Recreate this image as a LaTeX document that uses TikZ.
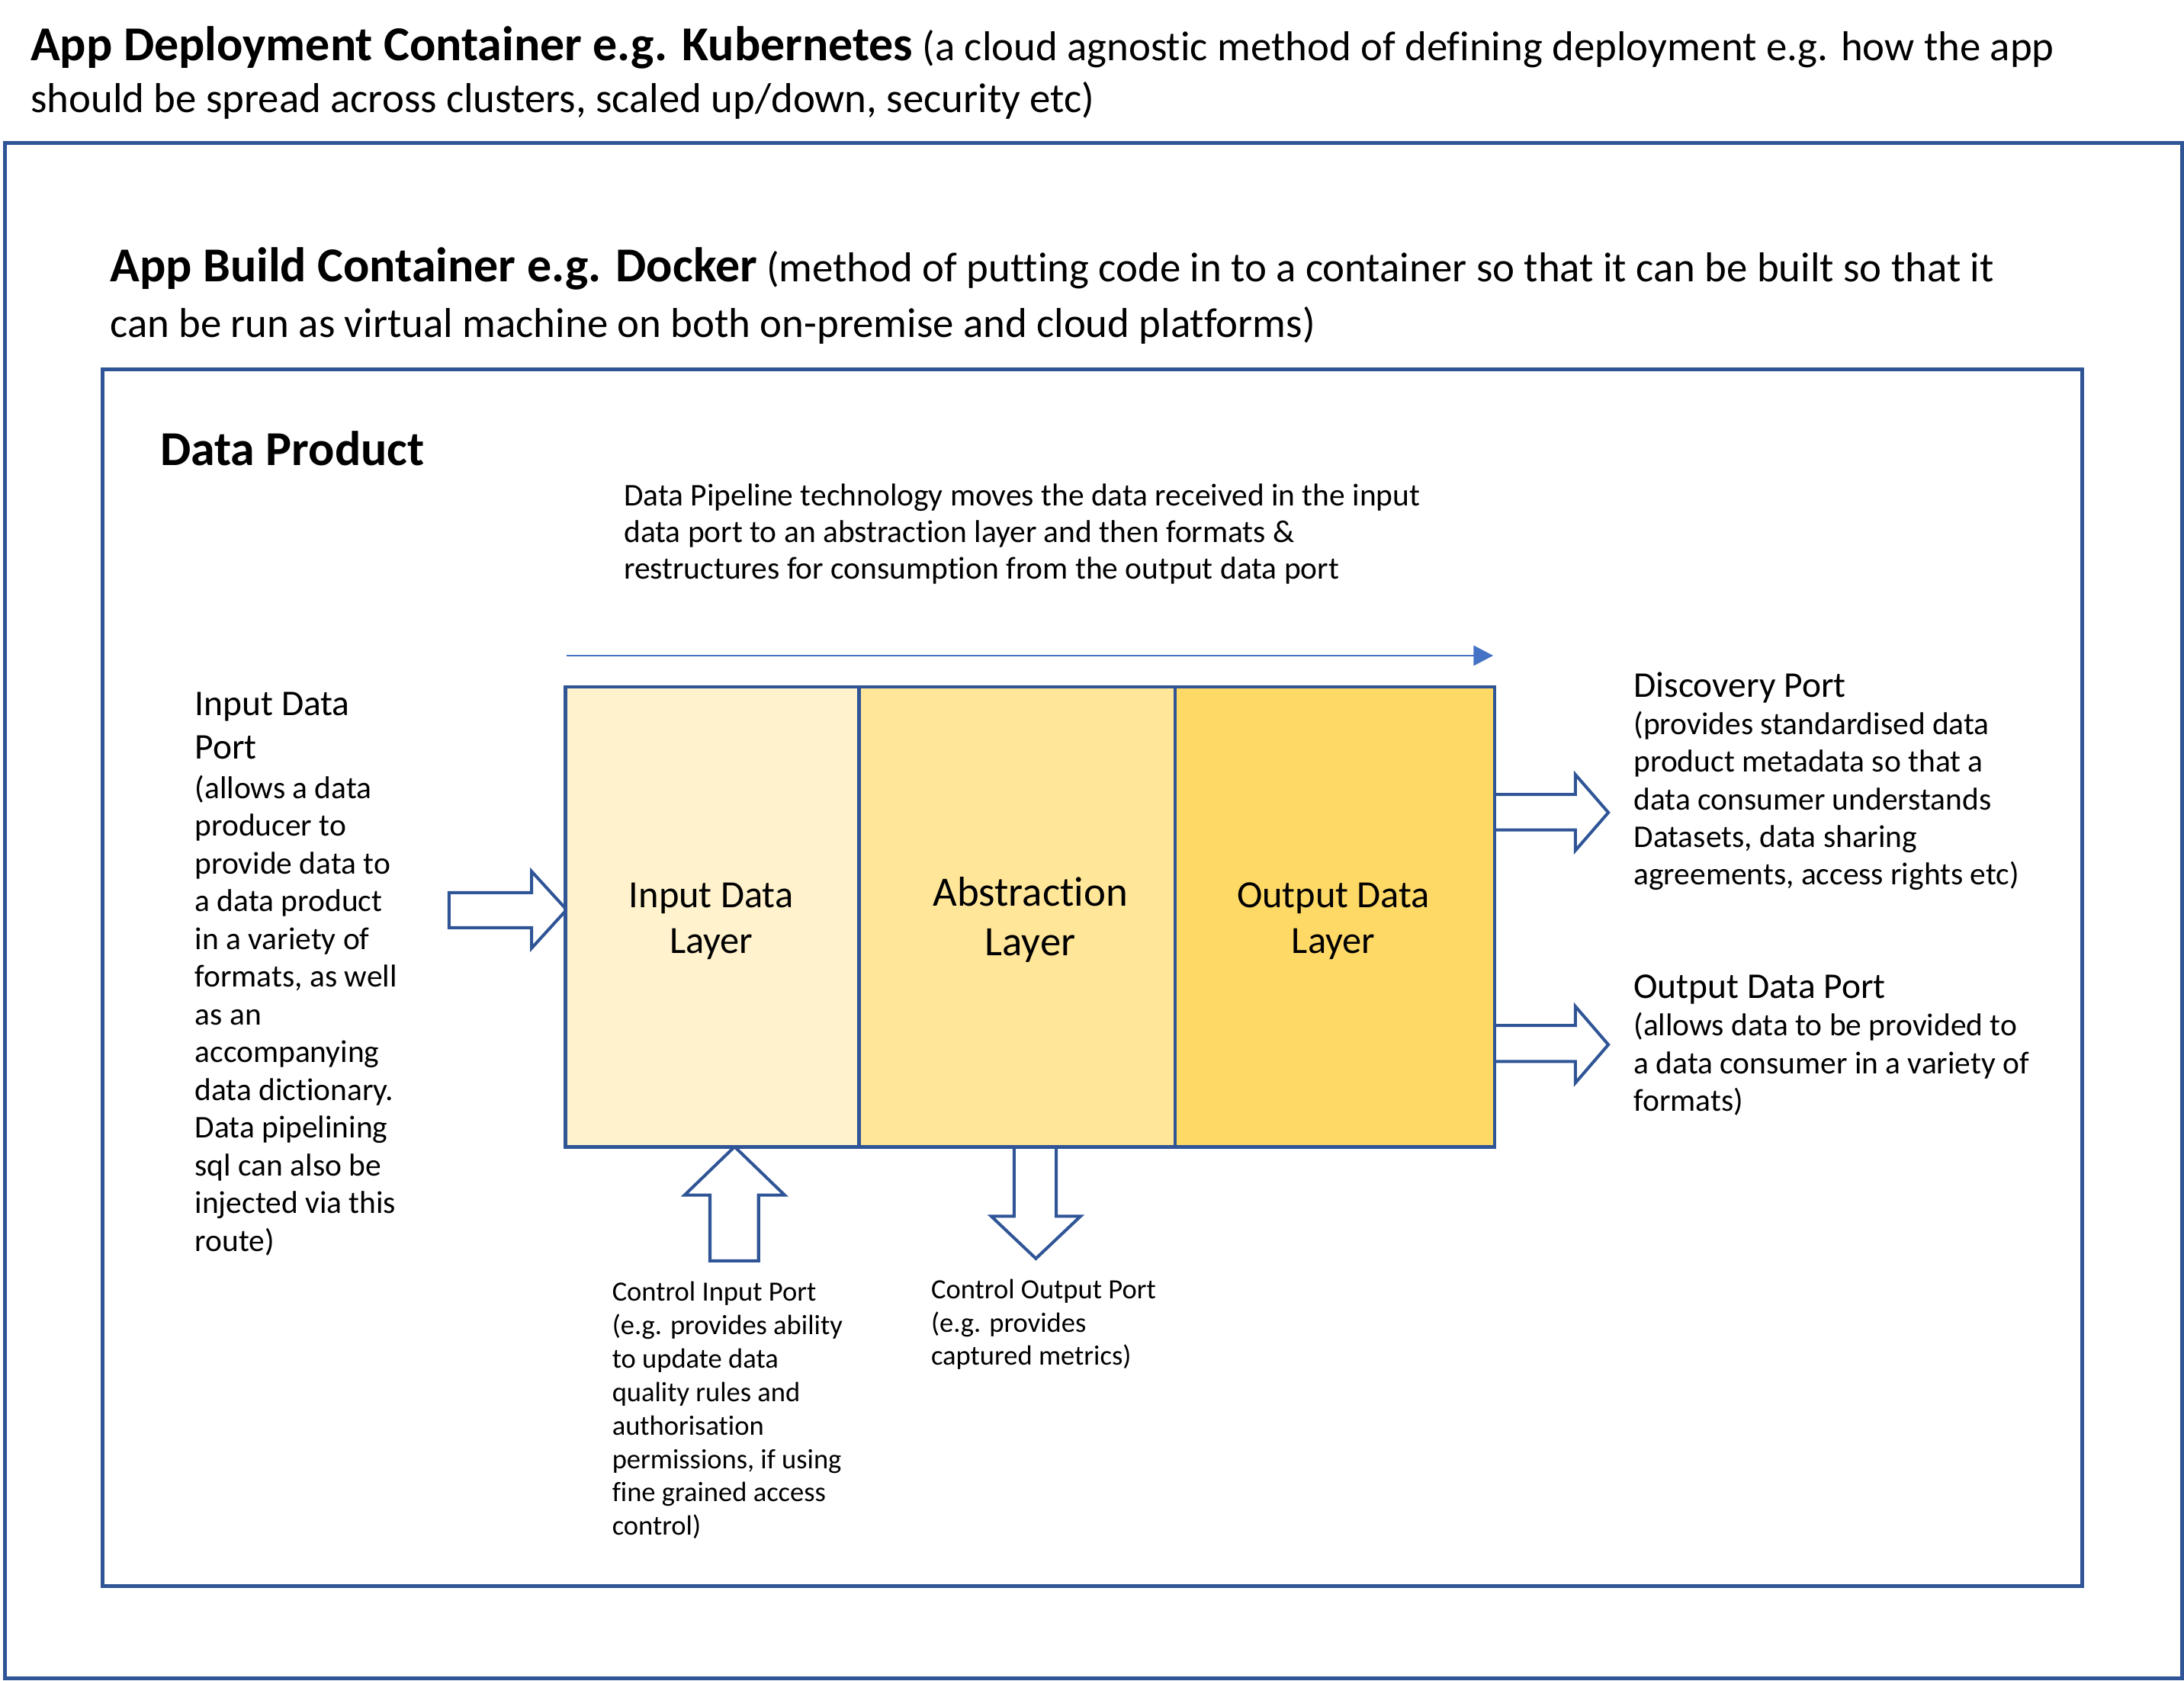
\documentclass[tikz,border=0pt]{standalone}
\usepackage{fontspec}
\setmainfont{Carlito}[Ligatures=NoCommon]
\usetikzlibrary{arrows.meta}
\definecolor{frame}{HTML}{2F5597}
\definecolor{pipe}{HTML}{4472C4}
\definecolor{layA}{HTML}{FFF2CC}
\definecolor{layB}{HTML}{FFE699}
\definecolor{layC}{HTML}{FFD966}
\newcommand{\bigbold}[1]{{\fontsize{17.5}{18.5}\selectfont\bfseries #1}}
\begin{document}
\begin{tikzpicture}[x=0.5pt,y=-0.5pt,
  txt/.style={anchor=base west, inner sep=0pt, outer sep=0pt, align=left},
  frm/.style={draw=frame, line width=1.37pt},
  layer/.style={draw=frame, line width=1.3pt, anchor=north west, inner sep=0pt, outer sep=0pt, minimum height=165.1pt},
  blk/.style={draw=frame, line width=1.1pt, fill=white, line join=miter},
  lab/.style={anchor=base, inner sep=0pt, outer sep=0pt, align=center},
  pipeline/.style={draw=pipe, line width=0.55pt, -{Triangle[length=7pt,width=7.2pt]}}
]
\useasboundingbox (0,0) rectangle (1568,1207);
% frames
\draw[frm] (3.6,102.6) rectangle (1566.7,1205.3);
\draw[frm] (73.6,265) rectangle (1494.9,1139.1);

% titles (base anchor = baseline of the last line)
\node[txt, font=\fontsize{15}{18.5}\selectfont] (t1) at (22,80.5)
  {\bigbold{App Deployment Container e.g. Kubernetes} (a cloud agnostic method of defining deployment e.g. how the app\\should be spread across clusters, scaled up/down, security etc)};
\node[txt, font=\fontsize{15}{19.75}\selectfont] (t2) at (79,242)
  {\bigbold{App Build Container e.g. Docker} (method of putting code in to a container so that it can be built so that it\\can be run as virtual machine on both on-premise and cloud platforms)};
\node[txt, font=\fontsize{17.5}{20}\selectfont\bfseries] (t3) at (115,334) {Data Product};

\node[txt, font=\fontsize{11.35}{13.25}\selectfont] (pipetext) at (448,416)
  {Data Pipeline technology moves the data received in the input\\data port to an abstraction layer and then formats \&\\restructures for consumption from the output data port};

% pipeline arrow
\coordinate (pstart) at (406.8,470.8);
\coordinate (pend) at (1072,470.8);
\draw[pipeline] (pstart) -- (pend);

% block arrows
\draw[blk] (322.4,641) -- (381.6,641) -- (381.6,625.7) -- (406.8,653.3) -- (381.6,681) -- (381.6,666.2) -- (322.4,666.2) -- cycle;
\draw[blk] (1073,570.5) -- (1131,570.5) -- (1131,556.2) -- (1154.7,583.5) -- (1131,610.8) -- (1131,596) -- (1073,596) -- cycle;
\draw[blk] (1073,736.4) -- (1131,736.4) -- (1131,722.7) -- (1154.7,750.2) -- (1131,777.7) -- (1131,762.3) -- (1073,762.3) -- cycle;
\draw[blk] (509.7,905.5) -- (509.7,858.2) -- (491.5,858.2) -- (527.4,823.5) -- (563.3,858.2) -- (544.6,858.2) -- (544.6,905.5) -- cycle;
\draw[blk] (728.1,823.5) -- (728.1,873.4) -- (711.6,873.4) -- (743.7,903.8) -- (775.8,873.4) -- (758.3,873.4) -- (758.3,823.5) -- cycle;

% layers
\node[layer, fill=layA, minimum width=105.4pt] (inl) at (406,493.3) {};
\node[layer, fill=layB, minimum width=113.4pt] (absl) at (616.8,493.3) {};
\node[layer, fill=layC, minimum width=114.7pt] (outl) at (843.6,493.3) {};

\node[lab, font=\fontsize{13.8}{16.5}\selectfont] (inlt) at (510.6,684.5) {Input Data\\Layer};
\node[lab, font=\fontsize{15}{17.75}\selectfont] (abslt) at (739.7,686) {Abstraction\\Layer};
\node[lab, font=\fontsize{13.8}{16.5}\selectfont] (outlt) at (957.3,684.5) {Output Data\\Layer};

% input data port
\node[txt, font=\fontsize{13}{15.5}\selectfont] (inph) at (140,545) {Input Data\\Port};
\node[txt, font=\fontsize{11.35}{13.55}\selectfont] (inpb) at (140,898.5)
  {(allows a data\\producer to\\provide data to\\a data product\\in a variety of\\formats, as well\\as an\\accompanying\\data dictionary.\\Data pipelining\\sql can also be\\injected via this\\route)};

% discovery port
\node[txt, font=\fontsize{13}{15.5}\selectfont] (disch) at (1173,500.5) {Discovery Port};
\node[txt, font=\fontsize{11.35}{13.5}\selectfont] (discb) at (1173,635.5)
  {(provides standardised data\\product metadata so that a\\data consumer understands\\Datasets, data sharing\\agreements, access rights etc)};

% output data port
\node[txt, font=\fontsize{13}{15.5}\selectfont] (outph) at (1173,717) {Output Data Port};
\node[txt, font=\fontsize{11.35}{13.5}\selectfont] (outpb) at (1173,798)
  {(allows data to be provided to\\a data consumer in a variety of\\formats)};

% control ports
\node[txt, font=\fontsize{10}{12}\selectfont] (ctin) at (439.5,1102.5)
  {Control Input Port\\(e.g. provides ability\\to update data\\quality rules and\\authorisation\\permissions, if using\\fine grained access\\control)};
\node[txt, font=\fontsize{10}{12}\selectfont] (ctout) at (668.5,980.5)
  {Control Output Port\\(e.g. provides\\captured metrics)};
\end{tikzpicture}
\end{document}
